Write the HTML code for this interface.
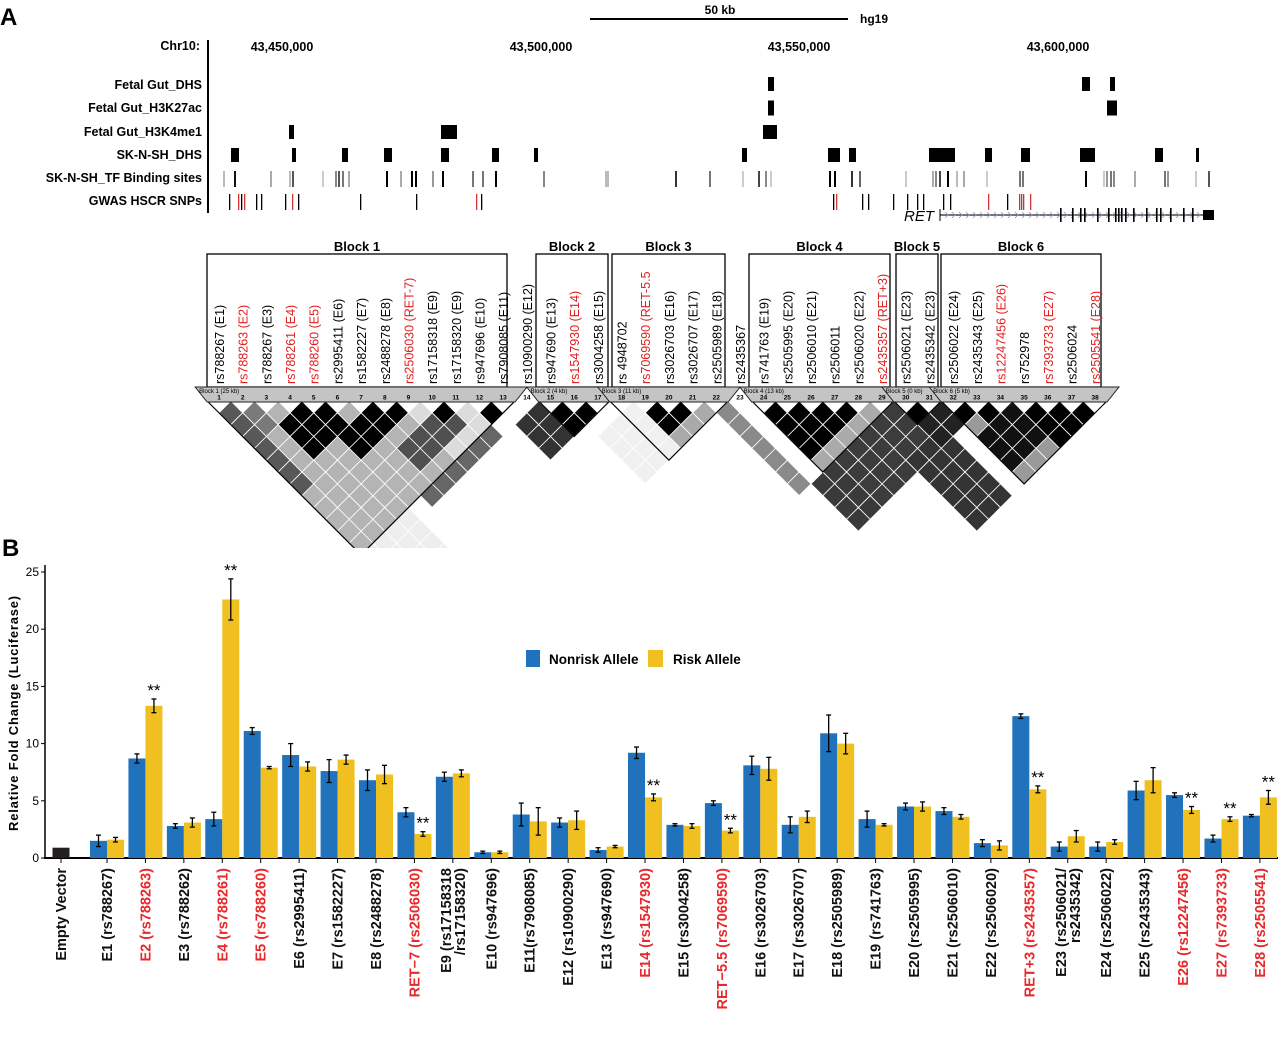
<!DOCTYPE html>
<html><head><meta charset="utf-8"><style>
html,body{margin:0;padding:0;background:#fff;}
svg{display:block;font-family:"Liberation Sans",Arial,sans-serif;}
</style></head><body>
<svg id="fig" width="1280" height="1045" viewBox="0 0 1280 1045" xmlns="http://www.w3.org/2000/svg">
<defs><clipPath id="ldclip"><rect x="200" y="380" width="920" height="168"/></clipPath></defs>
<text x="0" y="25" font-size="24" font-weight="bold">A</text>
<text x="2" y="556" font-size="24" font-weight="bold">B</text>
<g>
<line x1="590" y1="19" x2="848" y2="19" stroke="#000" stroke-width="2"/>
<text x="720" y="14" font-size="12" font-weight="bold" text-anchor="middle">50 kb</text>
<text x="860" y="23" font-size="12" font-weight="bold">hg19</text>
</g>
<g id="tracks"></g>
<g id="ld"></g>
<g id="bars"></g>
</svg>
<script>
// ===== Bar chart data =====
const categories = ["Empty Vector","E1 (rs788267)","E2 (rs788263)","E3 (rs788262)","E4 (rs788261)","E5 (rs788260)","E6 (rs2995411)","E7 (rs1582227)","E8 (rs2488278)","RET\u22127 (rs2506030)","E9 (rs17158318|/rs17158320)","E10 (rs947696)","E11(rs7908085)","E12 (rs10900290)","E13 (rs947690)","E14 (rs1547930)","E15 (rs3004258)","RET\u22125.5 (rs7069590)","E16 (rs3026703)","E17 (rs3026707)","E18 (rs2505989)","E19 (rs741763)","E20 (rs2505995)","E21 (rs2506010)","E22 (rs2506020)","RET+3 (rs2435357)","E23 (rs2506021/|rs2435342)","E24 (rs2506022)","E25 (rs2435343)","E26 (rs12247456)","E27 (rs7393733)","E28 (rs2505541)"];
const redLabels = [0,0,1,0,1,1,0,0,0,1,0,0,0,0,0,1,0,1,0,0,0,0,0,0,0,1,0,0,0,1,1,1];
const nonrisk = [0.9,1.5,8.7,2.8,3.4,11.1,9.0,7.6,6.8,4.0,7.1,0.5,3.8,3.1,0.7,9.2,2.9,4.8,8.1,2.9,10.9,3.4,4.5,4.1,1.3,12.4,1.0,1.0,5.9,5.5,1.7,3.7];
const risk = [null,1.6,13.3,3.1,22.6,7.9,8.0,8.6,7.3,2.1,7.4,0.5,3.2,3.3,1.0,5.3,2.8,2.4,7.8,3.6,10.0,2.9,4.5,3.6,1.1,6.0,1.9,1.4,6.8,4.2,3.4,5.3];
const nonriskErr = [0.05,0.5,0.4,0.2,0.6,0.3,1.0,1.0,0.9,0.4,0.4,0.1,1.0,0.4,0.2,0.5,0.1,0.2,0.8,0.7,1.6,0.7,0.3,0.3,0.3,0.2,0.4,0.4,0.8,0.2,0.3,0.1];
const riskErr = [0,0.2,0.6,0.4,1.8,0.1,0.4,0.4,0.8,0.2,0.3,0.1,1.2,0.8,0.1,0.3,0.2,0.2,1.0,0.5,0.9,0.1,0.4,0.2,0.4,0.3,0.5,0.2,1.1,0.3,0.2,0.6];
const significant = [0,0,1,0,1,0,0,0,0,1,0,0,0,0,0,1,0,1,0,0,0,0,0,0,0,1,0,0,0,1,1,1];
const yTicks = [0,5,10,15,20,25];

// ===== LD / track data =====
const snpLabels = ["rs788267 (E1)","rs788263 (E2)","rs788267 (E3)","rs788261 (E4)","rs788260 (E5)","rs2995411 (E6)","rs1582227 (E7)","rs2488278 (E8)","rs2506030 (RET-7)","rs17158318 (E9)","rs17158320 (E9)","rs947696 (E10)","rs7908085 (E11)","rs10900290 (E12)","rs947690 (E13)","rs1547930 (E14)","rs3004258 (E15)","rs 4948702","rs7069590 (RET-5.5","rs3026703 (E16)","rs3026707 (E17)","rs2505989 (E18)","rs2435367","rs741763 (E19)","rs2505995 (E20)","rs2506010 (E21)","rs2506011","rs2506020 (E22)","rs2435357 (RET+3)","rs2506021 (E23)","rs2435342 (E23)","rs2506022 (E24)","rs2435343 (E25)","rs12247456 (E26)","rs752978","rs7393733 (E27)","rs2506024","rs2505541 (E28)"];
const snpRed = [0,1,0,1,1,0,0,0,1,0,0,0,0,0,0,1,0,0,1,0,0,0,0,0,0,0,0,0,1,0,0,0,0,1,0,1,0,1];
const blocks = [[1,13,"Block 1","Block 1 (25 kb)",207,507],[15,17,"Block 2","Block 2 (4 kb)",536,608],[18,22,"Block 3","Block 3 (11 kb)",612,725],[24,29,"Block 4","Block 4 (13 kb)",749,890],[30,31,"Block 5","Block 5 (0 kb)",896,938],[32,38,"Block 6","Block 6 (5 kb)",941,1101]];
const ldRegions = [
 [1,13,1,13,"#b4b4b4"],[9,12,10,13,"#dcdcdc"],[1,1,2,8,"#585858"],[2,2,3,4,"#7a7a7a"],
 [3,5,5,7,"#000"],[5,8,8,9,"#000"],[7,10,11,12,"#505050"],[10,10,11,11,"#000"],[12,12,13,13,"#000"],
 [6,11,14,14,"#666"],[13,14,15,17,"#333"],
 [15,17,15,17,"#000"],[18,21,18,21,"#000"],[18,21,22,22,"#aaa"],[22,22,23,29,"#8a8a8a"],
 [24,28,24,28,"#000"],[24,28,29,29,"#aaa"],[25,29,30,33,"#3c3c3c"],[23,24,30,33,"#3a3a3a"],[28,30,33,38,"#343434"],
 [30,31,30,31,"#000"],[30,31,32,33,"#222"],
 [32,38,32,38,"#9a9a9a"],[32,33,33,33,"#000"],[33,35,34,36,"#000"],[35,37,37,38,"#000"],[32,34,35,37,"#111"],
 [1,4,14,17,"#eeeeee"],[16,18,19,22,"#f0f0f0"]
];
const tracks = ["Fetal Gut_DHS","Fetal Gut_H3K27ac","Fetal Gut_H3K4me1","SK-N-SH_DHS","SK-N-SH_TF Binding sites","GWAS HSCR SNPs"];
const trackY = [85,108,132,155,178,201];
const coordLabels = ["43,450,000","43,500,000","43,550,000","43,600,000"];
const coordX = [282,541,799,1058];
const fgDHS = [[768,774],[1082,1090],[1110,1115]];
const fgK27 = [[768,774],[1107,1117]];
const fgK4 = [[289,294],[441,457],[763,777]];
const shDHS = [[231,239],[292,296],[342,348],[384,392],[441,449],[492,499],[534,538],[742,747],[828,840],[849,856],[929,955],[985,992],[1021,1030],[1080,1095],[1155,1163],[1196,1199]];
const tfSites = [[223,"#bbb"],[234,"#111"],[270,"#aaa"],[289,"#bbb"],[292,"#555"],[322,"#ccc"],[335,"#888"],[338,"#555"],[342,"#777"],[348,"#aaa"],[386,"#000"],[400,"#aaa"],[411,"#000"],[415,"#000"],[432,"#999"],[442,"#000"],[472,"#777"],[482,"#777"],[495,"#000"],[543,"#888"],[605,"#bbb"],[607,"#bbb"],[675,"#333"],[709,"#777"],[742,"#ccc"],[758,"#444"],[765,"#888"],[770,"#ccc"],[829,"#000"],[834,"#000"],[851,"#333"],[859,"#666"],[905,"#ccc"],[932,"#aaa"],[935,"#888"],[939,"#444"],[947,"#000"],[956,"#bbb"],[963,"#aaa"],[986,"#ccc"],[1019,"#777"],[1022,"#777"],[1085,"#000"],[1103,"#ccc"],[1106,"#999"],[1110,"#777"],[1113,"#888"],[1134,"#aaa"],[1164,"#777"],[1167,"#999"],[1195,"#ccc"],[1208,"#555"]];
const gwasSnps = [[229,"#000"],[238,"#d33"],[241,"#000"],[244,"#d33"],[256,"#000"],[261,"#000"],[285,"#000"],[292,"#d33"],[298,"#000"],[360,"#000"],[416,"#000"],[476,"#d33"],[481,"#000"],[833,"#000"],[836,"#d33"],[862,"#000"],[868,"#000"],[893,"#000"],[907,"#000"],[917,"#000"],[923,"#000"],[943,"#000"],[950,"#000"],[988,"#d33"],[1007,"#000"],[1019,"#a44"],[1021,"#a44"],[1023,"#a44"],[1030,"#d33"]];
const retExons = [1060,1072,1080,1084,1097,1108,1115,1118,1121,1125,1133,1146,1156,1160,1170,1183,1192];

const NS="http://www.w3.org/2000/svg";
function mk(parent,tag,attrs,txt){const e=document.createElementNS(NS,tag);for(const k in attrs)e.setAttribute(k,attrs[k]);if(txt!==undefined)e.textContent=txt;parent.appendChild(e);return e;}

// ===== tracks =====
const T=document.getElementById('tracks');
let e;
e=mk(T,'text',{x:200,y:50,'font-size':12.5,'font-weight':'bold','text-anchor':'end'},'Chr10:');


mk(T,'line',{x1:208,y1:40,x2:208,y2:213,stroke:'#000','stroke-width':2});
coordLabels.forEach((c,i)=>{
 e=mk(T,'text',{x:coordX[i],y:51,'font-size':12.5,'font-weight':'bold','text-anchor':'middle'},c);
 
 
});
tracks.forEach((t,i)=>{
 e=mk(T,'text',{x:202,y:trackY[i]+4,'font-size':12.5,'font-weight':'bold','text-anchor':'end'},t);
 
 
});
function blocksTrack(list,y,h){list.forEach(p=>{e=mk(T,'rect',{x:p[0],y:y-h/2,width:p[1]-p[0],height:h,fill:'#000'});
 
 });}
blocksTrack(fgDHS,84,14);blocksTrack(fgK27,108,15);blocksTrack(fgK4,132,14);blocksTrack(shDHS,155,14);
tfSites.forEach(s=>{e=mk(T,'rect',{x:s[0],y:171,width:2,height:16,fill:s[1]});
 
 });
gwasSnps.forEach(s=>{e=mk(T,'rect',{x:s[0],y:194,width:1.3,height:16,fill:s[1]});
 
 });
e=mk(T,'text',{x:904,y:221,'font-size':15,'font-style':'italic'},'RET');


mk(T,'line',{x1:940,y1:215,x2:1205,y2:215,stroke:'#223',"stroke-width":1.2});
mk(T,'line',{x1:940,y1:209,x2:940,y2:221,stroke:'#000'});
for(let x=945;x<1200;x+=7){mk(T,'path',{d:`M${x},212 L${x+3},215 L${x},218`,stroke:'#99a',fill:'none','stroke-width':0.8});}
retExons.forEach(x=>{e=mk(T,'rect',{x:x,y:208,width:1.6,height:14,fill:'#000'});
 
 });
mk(T,'rect',{x:1203,y:210,width:11,height:10,fill:'#000'});

// ===== LD plot =====
const L=document.getElementById('ld');
const h=11.84, Y0=401;
const sx=i=>219+(i-1)*2*h;
blocks.forEach(b=>{
 e=mk(L,'rect',{x:b[4],y:254,width:b[5]-b[4],height:133,fill:'none',stroke:'#000','stroke-width':1.3});
 
 
 e=mk(L,'text',{x:(b[4]+b[5])/2,y:251,'font-size':13,'font-weight':'bold','text-anchor':'middle'},b[2]);
 
 
});
snpLabels.forEach((s,k)=>{
 const x=sx(k+1)+5;
 e=mk(L,'text',{x:x,y:384,'font-size':12.5,fill:snpRed[k]?'#e02020':'#000',transform:`rotate(-90 ${x} 384)`},s);
 
 
});
const G=mk(L,'g',{'clip-path':'url(#ldclip)'});
function shade(i,j){let c='#ffffff';ldRegions.forEach(r=>{if(i>=r[0]&&i<=r[1]&&j>=r[2]&&j<=r[3])c=r[4];});return c;}
for(let d=1;d<=13;d++){for(let i=1;i+d<=38;i++){const j=i+d;const cx=(sx(i)+sx(j))/2,cy=Y0+d*h;
 e=mk(G,'path',{d:`M${cx},${cy-h} L${cx+h},${cy} L${cx},${cy+h} L${cx-h},${cy} Z`,fill:shade(i,j),stroke:'#fff','stroke-width':0.8});
 
 
}}
blocks.forEach(b=>{
 const xa=sx(b[0])-h,xb=sx(b[1])+h,mx=(xa+xb)/2,depth=(xb-xa)/2;
 mk(G,'path',{d:`M${xa},${Y0} L${mx},${Y0+depth} L${xb},${Y0}`,fill:'none',stroke:'#000','stroke-width':1.2});
 e=mk(L,'path',{d:`M${xa-12},387 L${xb+12},387 L${xb},${Y0+1} L${xa},${Y0+1} Z`,fill:'#c4c4c4',stroke:'#222','stroke-width':1});
 
 
 mk(L,'text',{x:xa-8,y:393,'font-size':6},b[3]);
});
for(let i=1;i<=38;i++){mk(L,'text',{x:sx(i),y:399.5,'font-size':6.5,'font-weight':'bold','text-anchor':'middle'},String(i));}

// ===== Bar chart =====
const B=document.getElementById('bars');
const y0=858, ppu=11.44;
const ys=v=>y0-v*ppu;
const gx=k=>k===0?61:107+(k-1)*38.43;
mk(B,'line',{x1:45,y1:565,x2:45,y2:y0+1,stroke:'#000','stroke-width':1.5});
mk(B,'line',{x1:44,y1:y0,x2:1278,y2:y0,stroke:'#000','stroke-width':2});
yTicks.forEach(t=>{
 mk(B,'line',{x1:41,y1:ys(t),x2:45,y2:ys(t),stroke:'#000'});
 e=mk(B,'text',{x:39,y:ys(t)+4,'font-size':12,'text-anchor':'end'},String(t));
 
 
});
e=mk(B,'text',{x:18,y:713,'font-size':13,'font-weight':'bold','letter-spacing':'0.8','text-anchor':'middle',transform:'rotate(-90 18 713)'},'Relative Fold Change (Luciferase)');


function errbar(x,v,er){
 mk(B,'line',{x1:x,y1:ys(v+er),x2:x,y2:ys(v-er),stroke:'#000','stroke-width':1.3});
 mk(B,'line',{x1:x-2.5,y1:ys(v+er),x2:x+2.5,y2:ys(v+er),stroke:'#000','stroke-width':1.3});
 mk(B,'line',{x1:x-2.5,y1:ys(v-er),x2:x+2.5,y2:ys(v-er),stroke:'#000','stroke-width':1.3});
}
categories.forEach((c,k)=>{
 const x=gx(k);
 mk(B,'line',{x1:x,y1:y0,x2:x,y2:y0+5,stroke:'#000'});
 if(k===0){
  e=mk(B,'rect',{x:x-8.5,y:ys(nonrisk[k]),width:17,height:nonrisk[k]*ppu,fill:'#231f20'});
  
  
 } else {
  e=mk(B,'rect',{x:x-17,y:ys(nonrisk[k]),width:17,height:nonrisk[k]*ppu,fill:'#1f72bb'});
  
  
  e=mk(B,'rect',{x:x,y:ys(risk[k]),width:17,height:risk[k]*ppu,fill:'#f0c020'});
  
  
  errbar(x-8.5,nonrisk[k],nonriskErr[k]);
  errbar(x+8.5,risk[k],riskErr[k]);
  if(significant[k]){
   e=mk(B,'text',{x:x+8.5,y:ys(risk[k]+riskErr[k])-3,'font-size':17,'text-anchor':'middle'},'**');
   
   
  }
 }
 const lines=c.split('|');
 lines.forEach((ln,li)=>{
  const lx=x+5+li*14-(lines.length>1?7:0);
  e=mk(B,'text',{x:lx,y:868,'font-size':14.5,'font-weight':'bold','text-anchor':'end',fill:redLabels[k]?'#e8282b':'#111',transform:`rotate(-90 ${lx} 868)`},ln);
  
  
 });
});
e=mk(B,'rect',{x:526,y:650,width:14,height:17,fill:'#1f72bb'});


e=mk(B,'text',{x:549,y:664,'font-size':13.5,'font-weight':'bold'},'Nonrisk Allele');


e=mk(B,'rect',{x:648,y:650,width:15,height:17,fill:'#f0c020'});


e=mk(B,'text',{x:673,y:664,'font-size':13.5,'font-weight':'bold'},'Risk Allele');


</script>
</body></html>
